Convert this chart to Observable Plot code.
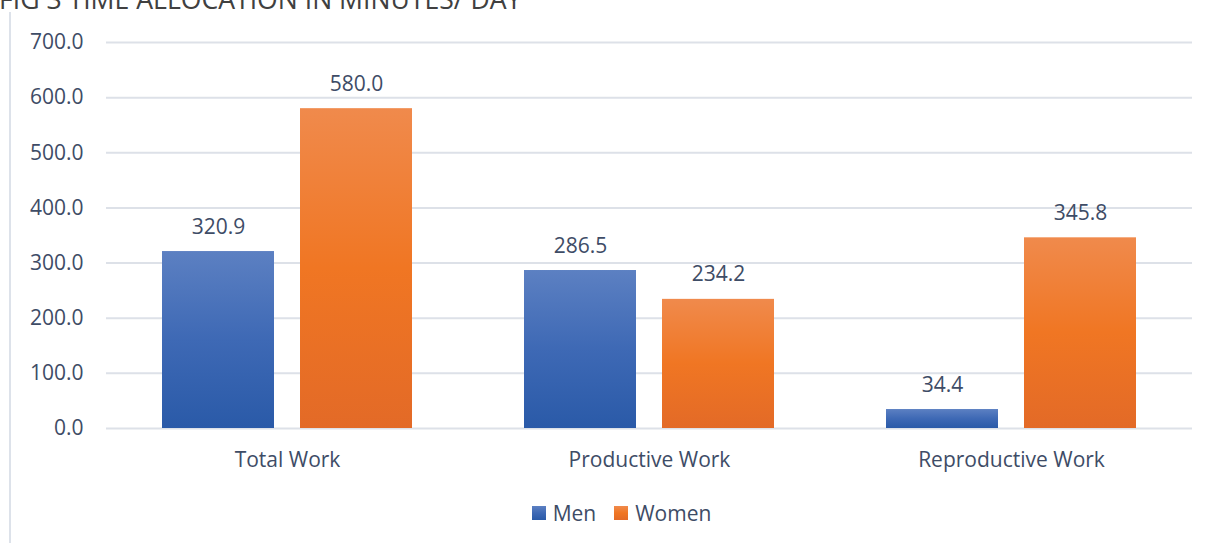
<!DOCTYPE html>
<html>
<head>
<meta charset="utf-8">
<script src="https://cdn.jsdelivr.net/npm/d3@7"></script>
<script src="https://cdn.jsdelivr.net/npm/@observablehq/plot@0.6"></script>
<style>
  html, body { margin: 0; padding: 0; background: #ffffff; }
  #wrap { position: relative; width: 1209px; height: 543px; overflow: hidden; background: #fff; font-family: "Open Sans", sans-serif; }
  #title { position: absolute; left: -1px; top: -14px; font-size: 26.6px; line-height: 26px; color: #404040; white-space: nowrap; font-family: "Open Sans", sans-serif; }
  #frame { position: absolute; left: 9px; top: 12px; bottom: 0; width: 2px; background: #dde2ea; }
  #chart { position: absolute; left: 0; top: 0; }
  #legend { position: absolute; left: 34px; width: 1175px; top: 499px; display: flex; justify-content: center; }
</style>
</head>
<body>
<div id="wrap">
  <div id="title">FIG 3 TIME ALLOCATION IN MINUTES/ DAY</div>
  <div id="frame"></div>
  <div id="chart"></div>
  <div id="legend"></div>
</div>
<script>
const categories = ["Total Work", "Productive Work", "Reproductive Work"];
const series = ["Men", "Women"];
const menValues = [320.9, 286.5, 34.4];
const womenValues = [580.0, 234.2, 345.8];
const yTicks = [0, 100, 200, 300, 400, 500, 600, 700];

const table = categories.flatMap((c, i) => [
  {category: c, series: "Men", value: menValues[i]},
  {category: c, series: "Women", value: womenValues[i]}
]);

const textColor = "#3e4c66";
const fontFamily = "'Open Sans', sans-serif";
const colorScale = {domain: series, range: ["url(#gradMen)", "url(#gradWomen)"]};

const chart = Plot.plot({
  width: 1209,
  height: 490,
  marginTop: 42,
  marginBottom: 62,
  marginLeft: 105,
  marginRight: 16,
  style: {color: textColor, fontFamily, fontSize: "21px", background: "transparent"},
  fx: {domain: categories, paddingInner: 0, paddingOuter: 0, label: null},
  x: {domain: series, paddingInner: 0.187, paddingOuter: 0.398, axis: null},
  y: {domain: [0, 700], axis: null},
  color: colorScale,
  marks: [
    Plot.gridY(yTicks, {stroke: "#dde1e8", strokeOpacity: 1, strokeWidth: 2}),
    Plot.axisY(yTicks, {tickSize: 0, tickPadding: 23, tickFormat: d => d.toFixed(1), fontSize: 21, label: null, facetAnchor: "left"}),
    Plot.axisFx({anchor: "bottom", tickSize: 0, tickPadding: 24, fontSize: 21, label: null}),
    Plot.barY(table, {fx: "category", x: "series", y: "value", fill: "series"}),
    Plot.text(table, {fx: "category", x: "series", y: "value", text: d => d.value.toFixed(1), lineAnchor: "bottom", dy: -18, fontSize: 21})
  ]
});

const svg = d3.select(chart);
const defs = svg.insert("defs", ":first-child");
function grad(id, stops) {
  const g = defs.append("linearGradient").attr("id", id).attr("x1", 0).attr("y1", 0).attr("x2", 0).attr("y2", 1);
  stops.forEach(([o, c]) => g.append("stop").attr("offset", o).attr("stop-color", c));
}
grad("gradMen", [[0, "#5c80c2"], [0.5, "#3e69b5"], [1, "#2a5aa8"]]);
grad("gradWomen", [[0, "#f08a4c"], [0.5, "#f07623"], [1, "#e36a27"]]);
document.getElementById("chart").appendChild(chart);

// legend
const legend = document.getElementById("legend");
series.forEach((s, i) => {
  const item = document.createElement("div");
  item.style.cssText = `display:flex;align-items:center;margin:0 ${i === 0 ? 9 : 0}px 0 ${i === 1 ? 9 : 0}px;font-size:21px;color:${textColor};font-family:${fontFamily};`;
  const sw = d3.create("svg").attr("width", 14).attr("height", 14).style("margin-right", "7px");
  sw.append("rect").attr("width", 14).attr("height", 14).attr("fill", colorScale.range[i]);
  item.appendChild(sw.node());
  const t = document.createElement("span");
  t.textContent = s;
  item.appendChild(t);
  legend.appendChild(item);
});
</script>
</body>
</html>
